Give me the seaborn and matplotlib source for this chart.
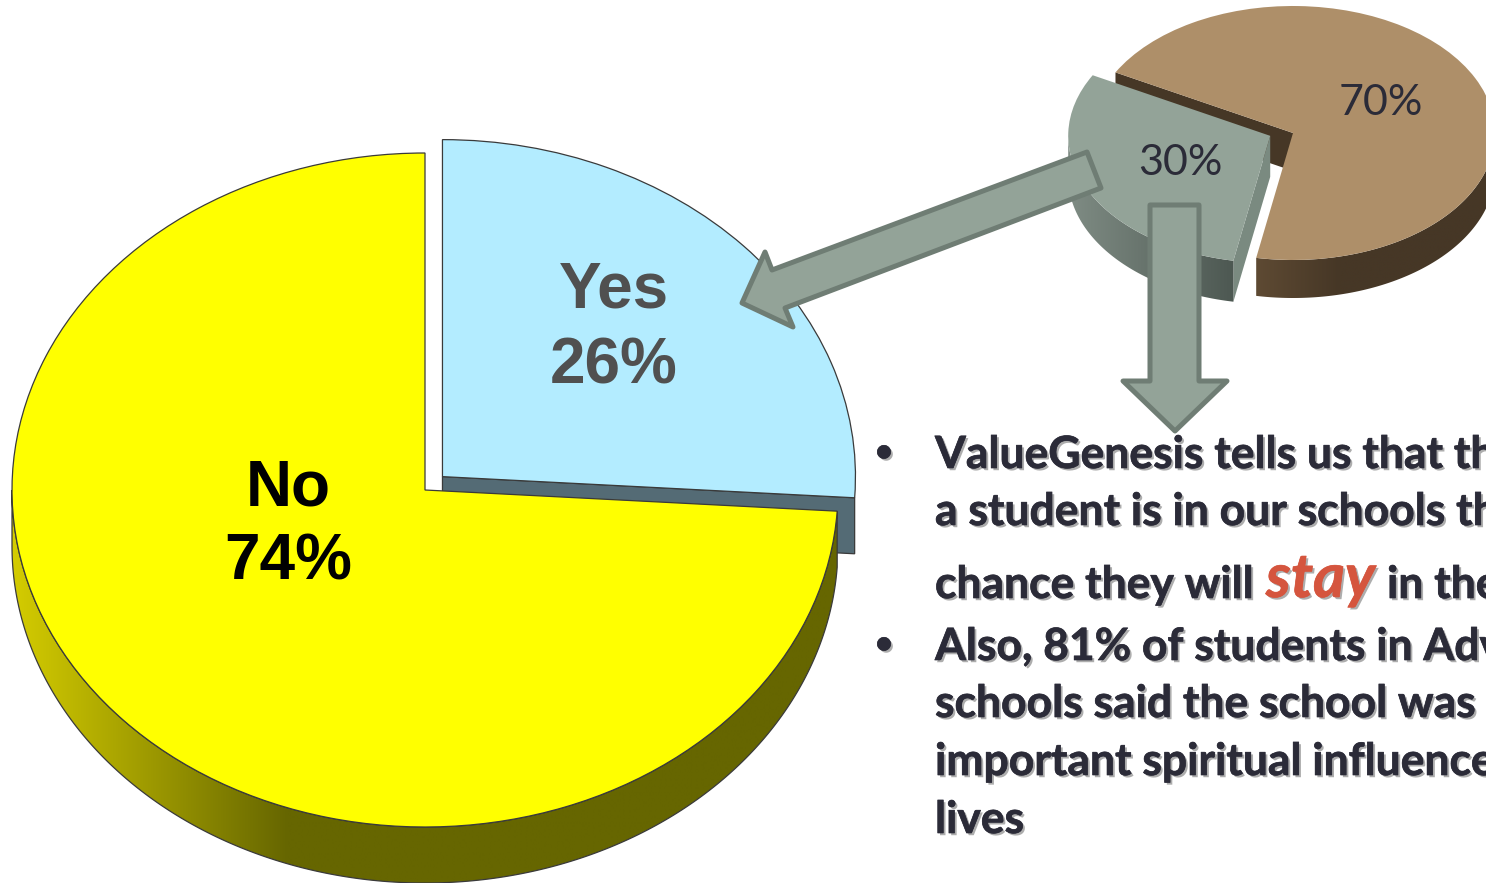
import numpy as np
import seaborn as sns
import matplotlib.pyplot as plt
import matplotlib.patheffects as pe
from matplotlib.patches import Polygon

sns.set_theme(style="white")
plt.rcParams['font.family'] = ['Lato', 'DejaVu Sans']

W, H = 1486, 883

# values
main_labels = ["Yes", "No"]
main_values = [26, 74]
main_colors = ["#b3ecff", "#ffff00"]
side_labels = ["70%", "30%"]
side_values = [70, 30]
side_colors = ["#ae8f69", "#93a398"]

text_lines = [
    "ValueGenesis tells us that th",
    "a student is in our schools th",
    "chance they will",
    "Also, 81% of students in Adv",
    "schools said the school was",
    "important spiritual influence",
    "lives",
]
text_base = [468, 525, 598, 660, 717, 775, 833]

fig = plt.figure(figsize=(W / 100, H / 100), dpi=100, facecolor="white")


def pie_axes(cx, cy, rx, ry, z):
    # full figure axes where the unit circle lands on the ellipse in pixels
    ax = fig.add_axes([0, 0, 1, 1], zorder=z)
    ax.patch.set_alpha(0)
    ax.axis("off")
    ax._lims = ((0 - cx) / rx, (W - cx) / rx), ((cy - H) / ry, cy / ry)
    return ax


def fix_lims(ax):
    ax.set_aspect("auto")
    ax.set_xlim(*ax._lims[0])
    ax.set_ylim(*ax._lims[1])


def ramp(c1, c2, k, n=256):
    # left to right shading, flat after k steps
    pal = sns.blend_palette([c1, c2], n_colors=k)
    pal = list(pal) + [pal[-1]] * (n - k)
    return np.array(pal)[np.newaxis, :, :3]


def wall(ax, center, t1, t2, depth, grad, z, edge=None):
    t = np.radians(np.linspace(t1, t2, 240))
    x = center[0] + np.cos(t)
    y = center[1] + np.sin(t)
    xy = np.r_[np.c_[x, y], np.c_[x[::-1], y[::-1] - depth]]
    shape = Polygon(xy, closed=True, fc="none", ec=edge or "none", lw=0.9, zorder=z + 0.1)
    ax.add_patch(shape)
    im = ax.imshow(grad, extent=(x.min(), x.max(), y.min() - depth, y.max()),
                   aspect="auto", zorder=z, interpolation="bilinear")
    im.set_clip_path(shape)


def cut_face(ax, center, angle, depth, color, z, edge="none"):
    p = (center[0] + np.cos(np.radians(angle)), center[1] + np.sin(np.radians(angle)))
    xy = [center, p, (p[0], p[1] - depth), (center[0], center[1] - depth)]
    ax.add_patch(Polygon(xy, closed=True, fc=color, ec=edge, lw=0.9, zorder=z))


# main pie
ax_main = pie_axes(425, 490, 413, 337, 1)
wedges, _ = ax_main.pie(main_values, colors=main_colors, explode=[0.058, 0], startangle=90,
                        counterclock=False, wedgeprops={"edgecolor": "#3a3a3a", "linewidth": 0.9})
fix_lims(ax_main)
main_depth = 56 / 337
yes_end = 90 - main_values[0] * 3.6
cut_face(ax_main, wedges[0].center, yes_end, main_depth, "#546b75", 0.5, "#3a3a3a")
wall(ax_main, wedges[1].center, 180, 360 + yes_end, main_depth, ramp("#d4cc00", "#666600", 86), 0.8, "#3a3a3a")
wedges[0].set_zorder(2)
wedges[1].set_zorder(2)
fix_lims(ax_main)

# small pie, top right
ax_side = pie_axes(1293, 133, 202, 127, 2)
start = 151.5
side_w, _ = ax_side.pie(side_values, colors=side_colors, explode=[0, 0.125], startangle=start,
                        counterclock=False, wedgeprops={"linewidth": 0})
side_depth = 38 / 127
brown_end = start - side_values[0] * 3.6
cut_face(ax_side, side_w[0].center, start, side_depth, "#463726", 1)
wall(ax_side, side_w[0].center, brown_end, 0, side_depth, ramp("#5e4a33", "#463726", 90), 1)
side_w[0].set_zorder(2)
# lift the cut out slice a little, the picture has some perspective
gx, gy = side_w[1].center
side_w[1].set_center((gx, gy + 4 / 127))
cut_face(ax_side, side_w[1].center, brown_end, 41 / 127, "#7a8a80", 3)
wall(ax_side, side_w[1].center, 180, 360 + brown_end, 41 / 127, ramp("#7f8c84", "#4d5852", 256), 3)
side_w[1].set_zorder(4)
fix_lims(ax_side)

# arrows and text in pixel coordinates
ax = fig.add_axes([0, 0, 1, 1], zorder=3)
ax.patch.set_alpha(0)
ax.axis("off")
ax.set_xlim(0, W)
ax.set_ylim(H, 0)

arrow_left = [(1087, 152), (1101, 188), (785, 308), (793, 327), (742, 303), (765, 252), (772, 270)]
arrow_down = [(1150, 205), (1199, 205), (1199, 381), (1227, 381), (1175, 431), (1123, 381), (1150, 381)]
for pts in (arrow_left, arrow_down):
    ax.add_patch(Polygon(pts, closed=True, fc="#93a398", ec="#6f7d74", lw=3.6, joinstyle="round"))

arial = ["Liberation Sans", "DejaVu Sans"]
ax.text(288, 488, "No", family=arial, weight="bold", fontsize=46, color="black", ha="center", va="center")
ax.text(288, 563, f"{main_values[1]}%", family=arial, weight="bold", fontsize=46, color="black", ha="center", va="center")
ax.text(614, 291, main_labels[0], family=arial, weight="bold", fontsize=46, color="#505050", ha="center", va="center")
ax.text(614, 366, f"{main_values[0]}%", family=arial, weight="bold", fontsize=46, color="#505050", ha="center", va="center")

ax.text(1381, 103, side_labels[0], fontsize=31, color="#2b2b38", ha="center", va="center")
ax.text(1180, 163, side_labels[1], fontsize=31, color="#2b2b38", ha="center", va="center")


def body_fx(color):
    # soft shadow plus a hair of stroke to thicken the glyphs
    return [pe.SimplePatchShadow(offset=(1.6, -1.6), shadow_rgbFace="#777777", alpha=0.6),
            pe.Stroke(linewidth=0.5, foreground=color), pe.Normal()]


ink = "#2b2b38"
for line, y in zip(text_lines, text_base):
    ax.text(935, y, line, fontsize=32, weight="bold", color=ink, va="baseline", path_effects=body_fx(ink))
ax.text(1266, 597, "stay", fontsize=44, weight="bold", style="italic", color="#d5553e", va="baseline", path_effects=body_fx("#d5553e"))
ax.text(1387, 598, "in the", fontsize=32, weight="bold", color=ink, va="baseline", path_effects=body_fx(ink))
for y in (452, 644):
    ax.text(884, y, "\u2022", fontsize=22, weight="bold", color=ink, ha="center", va="center", path_effects=body_fx(ink))

fig.savefig("out.png", dpi=100)
